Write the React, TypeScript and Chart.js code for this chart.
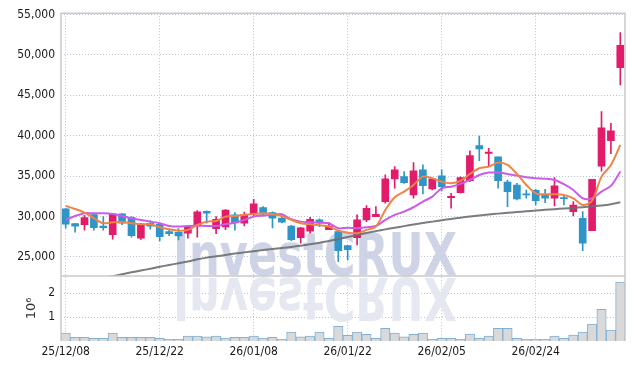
import React, { useEffect, useRef } from 'react';
import { Chart, registerables } from 'chart.js';

Chart.register(...registerables);

const DATES = [
  '25/12/08', '25/12/09', '25/12/10', '25/12/11', '25/12/12', '25/12/15', '25/12/16', '25/12/17', '25/12/18', '25/12/19',
  '25/12/22', '25/12/23', '25/12/24', '25/12/26', '25/12/29', '25/12/30', '26/01/02', '26/01/05', '26/01/06', '26/01/07',
  '26/01/08', '26/01/09', '26/01/12', '26/01/13', '26/01/14', '26/01/15', '26/01/16', '26/01/19', '26/01/20', '26/01/21',
  '26/01/22', '26/01/23', '26/01/26', '26/01/27', '26/01/28', '26/01/29', '26/01/30', '26/02/02', '26/02/03', '26/02/04',
  '26/02/05', '26/02/06', '26/02/09', '26/02/10', '26/02/11', '26/02/12', '26/02/13', '26/02/19', '26/02/20', '26/02/23',
  '26/02/24', '26/02/25', '26/02/26', '26/02/27', '26/03/03', '26/03/04', '26/03/05', '26/03/06', '26/03/09', '26/03/10',
];

const OPEN = [
  30930, 29110, 28980, 30220, 28820, 27750, 30310, 29900, 27300, 29160,
  29030, 28120, 28040, 27920, 28820, 30640, 28490, 28700, 30190, 29160,
  30310, 31090, 30470, 29810, 28820, 27370, 28170, 29570, 28370, 28120,
  26380, 27370, 29570, 29980, 31830, 34650, 34930, 32660, 35760, 33410,
  35020, 32330, 32950, 34440, 38770, 37800, 37370, 34270, 33900, 32800,
  33250, 32660, 32250, 32330, 30600, 29780, 28240, 36230, 39390, 48420,
];
const HIGH = [
  30980, 29150, 30150, 30250, 29980, 30350, 30350, 29980, 29150, 29480,
  29160, 28410, 28490, 28900, 30740, 30700, 29980, 30850, 30470, 30550,
  32130, 31210, 30560, 29900, 28900, 28660, 29900, 29690, 29230, 28200,
  26400, 30190, 31340, 31220, 35140, 36170, 35550, 36670, 36380, 34730,
  35760, 32870, 34900, 38120, 39970, 38450, 37370, 34520, 34110, 33280,
  33370, 33370, 34810, 32660, 31830, 30600, 34610, 42980, 41550, 52790,
];
const LOW = [
  28540, 28040, 28290, 28290, 28290, 27180, 28980, 27420, 27150, 28410,
  26960, 27620, 27090, 27300, 27420, 29160, 27870, 28360, 28290, 28820,
  30060, 30200, 28580, 29200, 27000, 26690, 27920, 28740, 28370, 24400,
  24600, 26470, 29360, 29980, 31640, 33490, 34100, 32250, 32790, 33280,
  33160, 31020, 32870, 34300, 36910, 36230, 33500, 31210, 32040, 32250,
  31420, 31710, 31300, 31420, 30060, 25760, 28240, 35600, 37780, 46300,
];
const CLOSE = [
  29030, 28790, 29850, 28610, 28610, 30310, 29160, 27620, 29070, 28790,
  27500, 27870, 27590, 28740, 30560, 30400, 29650, 30800, 29200, 30190,
  31550, 30270, 29780, 29280, 27130, 28580, 29650, 29200, 28820, 25760,
  25890, 29570, 31020, 30270, 34650, 35760, 34190, 35640, 33820, 34650,
  33690, 32480, 34810, 37530, 38360, 37960, 34440, 33070, 32170, 32660,
  31960, 32250, 33780, 32200, 31420, 26690, 34610, 40970, 40600, 51190,
];

const MA_SHORT = [
  31300, 30930, 30470, 29780, 29160, 29280, 29320, 29160, 29030, 29030,
  28660, 28410, 28240, 28330, 28950, 29360, 29440, 29980, 30060, 30190,
  30310, 30400, 30310, 30060, 29570, 29160, 29030, 28910, 28740, 28240,
  27990, 27920, 28330, 28740, 30800, 32380, 33070, 33900, 34930, 34730,
  34310, 34110, 34400, 35270, 35970, 36170, 36670, 36380, 35270, 33900,
  32870, 32750, 32750, 32660, 32250, 31420, 31960, 34930, 36380, 38860,
];
const MA_MID = [
  29570, 30060, 30400, 30400, 30400, 30310, 30060, 29780, 29570, 29360,
  29160, 28820, 28740, 28820, 28860, 28820, 28820, 29030, 29230, 29570,
  29980, 30100, 30190, 30270, 29650, 29360, 29280, 29230, 29160, 28540,
  28610, 28540, 28660, 28820, 29570, 30190, 30600, 31140, 31840, 32450,
  33490, 33690, 34030, 34520, 35140, 35430, 35430, 35270, 35060, 34860,
  34730, 34680, 34520, 33990, 33280, 32250, 32250, 33070, 33780, 35560,
];
const MA_LONG = [
  21500, 21750, 22000, 22200, 22430, 22600, 22850, 23080, 23300, 23530,
  23760, 23990, 24200, 24420, 24700, 24900, 25060, 25230, 25400, 25550,
  25700, 25830, 25960, 26090, 26220, 26380, 26550, 26750, 26950, 27200,
  27450, 27700, 27950, 28180, 28400, 28600, 28800, 29000, 29180, 29360,
  29530, 29690, 29850, 29990, 30120, 30240, 30350, 30450, 30550, 30640,
  30730, 30820, 30900, 30980, 31060, 31150, 31250, 31360, 31520, 31760,
];

// volume in millions of shares
const VOLUME = [
  0.33, 0.15, 0.15, 0.11, 0.11, 0.33, 0.15, 0.15, 0.15, 0.15,
  0.11, 0.07, 0.07, 0.21, 0.21, 0.17, 0.21, 0.12, 0.15, 0.15,
  0.21, 0.12, 0.15, 0.07, 0.375, 0.17, 0.21, 0.375, 0.11, 0.61,
  0.24, 0.375, 0.28, 0.11, 0.53, 0.33, 0.17, 0.28, 0.33, 0.07,
  0.11, 0.11, 0.07, 0.29, 0.11, 0.21, 0.53, 0.53, 0.11, 0.07,
  0.07, 0.07, 0.21, 0.11, 0.25, 0.375, 0.71, 1.32, 0.46, 2.45,
];

const PRICE_TICKS = [25000, 30000, 35000, 40000, 45000, 50000, 55000];
const VOLUME_TICKS = [1, 2];
const DATE_TICKS = [0, 10, 20, 30, 40, 50];

const UP = '#e31b6b';
const DOWN = '#2f95c8';
const GRID = 'rgba(176,182,208,0.85)';
const TICK_FONT = { family: '"DejaVu Sans Condensed", "DejaVu Sans", sans-serif', size: 12 };

const watermark = {
  id: 'watermark',
  beforeDatasetsDraw(chart: any) {
    const { ctx } = chart;
    const py = chart.scales.y;
    const base = py.bottom;
    const text = 'InvestCRUX';
    ctx.save();
    ctx.font = 'bold 58px "DejaVu Sans", sans-serif';
    const w = ctx.measureText(text).width;
    const sx = 284 / w;
    ctx.translate(173, base);
    ctx.scale(sx, 1);
    ctx.textBaseline = 'alphabetic';
    ctx.fillStyle = 'rgba(203,210,229,0.95)';
    ctx.fillText(text, 0, -1);
    ctx.scale(1, -1);
    ctx.fillStyle = 'rgba(226,229,239,0.9)';
    ctx.fillText(text, 0, -2);
    ctx.restore();
  },
};

const frame = {
  id: 'frame',
  afterDraw(chart: any) {
    const { ctx, chartArea } = chart;
    const py = chart.scales.y;
    ctx.save();
    ctx.strokeStyle = '#c9c9c9';
    ctx.lineWidth = 1.5;
    ctx.beginPath();
    ctx.moveTo(chartArea.left, chartArea.bottom);
    ctx.lineTo(chartArea.left, chartArea.top);
    ctx.lineTo(chartArea.right, chartArea.top);
    ctx.lineTo(chartArea.right, chartArea.bottom);
    ctx.moveTo(chartArea.left, py.bottom);
    ctx.lineTo(chartArea.right, py.bottom);
    ctx.stroke();
    ctx.restore();
  },
};

export default function App() {
  const ref = useRef<HTMLCanvasElement | null>(null);

  useEffect(() => {
    if (!ref.current) return;
    const idx = DATES.map((_, i) => i);
    const candleColors = idx.map((i) => (CLOSE[i] >= OPEN[i] ? UP : DOWN));

    const chart = new Chart(ref.current, {
      type: 'bar',
      data: {
        datasets: [
          {
            type: 'line',
            label: 'MA short',
            data: idx.map((i) => ({ x: i, y: MA_SHORT[i] })),
            borderColor: '#ef8447',
            borderWidth: 2,
            pointRadius: 0,
            tension: 0.3,
            yAxisID: 'y',
            order: 0,
          },
          {
            type: 'line',
            label: 'MA mid',
            data: idx.map((i) => ({ x: i, y: MA_MID[i] })),
            borderColor: '#cb5ce9',
            borderWidth: 2,
            pointRadius: 0,
            tension: 0.3,
            yAxisID: 'y',
            order: 0,
          },
          {
            type: 'line',
            label: 'MA long',
            data: idx.map((i) => ({ x: i, y: MA_LONG[i] })),
            borderColor: 'rgba(110,110,110,0.9)',
            borderWidth: 2,
            pointRadius: 0,
            tension: 0.2,
            yAxisID: 'y',
            order: 0,
          },
          {
            type: 'bar',
            label: 'body',
            data: idx.map((i) => ({ x: i, y: [OPEN[i], CLOSE[i]] })),
            backgroundColor: candleColors,
            borderWidth: 0,
            barThickness: 7,
            grouped: false,
            yAxisID: 'y',
            order: 1,
          },
          {
            type: 'bar',
            label: 'wick',
            data: idx.map((i) => ({ x: i, y: [LOW[i], HIGH[i]] })),
            backgroundColor: candleColors,
            borderWidth: 0,
            barThickness: 1,
            grouped: false,
            yAxisID: 'y',
            order: 2,
          },
          {
            type: 'bar',
            label: 'volume',
            data: idx.map((i) => ({ x: i, y: VOLUME[i] })),
            backgroundColor: '#d9d9d9',
            borderColor: '#82b1d4',
            borderWidth: 1,
            barPercentage: 1,
            categoryPercentage: 1,
            grouped: false,
            yAxisID: 'yv',
            order: 3,
          },
        ] as any,
      },
      options: {
        animation: false,
        responsive: false,
        maintainAspectRatio: false,
        layout: { padding: { top: 13, right: 9, left: 0, bottom: 0 } },
        plugins: { legend: { display: false }, tooltip: { enabled: false } },
        scales: {
          x: {
            type: 'linear',
            offset: false,
            min: -0.5,
            max: 59.5,
            afterBuildTicks: (s: any) => {
              s.ticks = DATE_TICKS.map((v) => ({ value: v }));
            },
            afterFit: (s: any) => {
              s.height = 29;
            },
            ticks: {
              callback: (v: any) => DATES[v] ?? '',
              font: { ...TICK_FONT },
              color: '#1a1a1a',
              padding: 4,
              maxRotation: 0,
              autoSkip: false,
            },
            grid: { color: GRID, lineWidth: 1, drawTicks: false, offset: false },
            border: { display: false, dash: [1, 2] },
          },
          yv: {
            type: 'linear',
            position: 'left',
            stack: 'main',
            stackWeight: 1,
            min: 0,
            max: 2.71,
            afterBuildTicks: (s: any) => {
              s.ticks = VOLUME_TICKS.map((v) => ({ value: v }));
            },
            afterFit: (s: any) => {
              s.width = 61;
            },
            ticks: { font: { ...TICK_FONT }, color: '#1a1a1a', padding: 6 },
            title: {
              display: true,
              text: '10⁶',
              color: '#333',
              font: { family: '"DejaVu Sans", sans-serif', size: 13 },
              padding: { top: 24, bottom: 0 },
            },
            grid: { color: GRID, lineWidth: 1, drawTicks: false },
            border: { display: false, dash: [1, 2] },
          },
          y: {
            type: 'linear',
            position: 'left',
            stack: 'main',
            stackWeight: 4.04,
            min: 22628,
            max: 55177,
            afterBuildTicks: (s: any) => {
              s.ticks = PRICE_TICKS.map((v) => ({ value: v }));
            },
            afterFit: (s: any) => {
              s.width = 61;
            },
            ticks: {
              font: { ...TICK_FONT },
              color: '#1a1a1a',
              padding: 6,
              callback: (v: any) => Number(v).toLocaleString('en-US'),
            },
            grid: { color: GRID, lineWidth: 1, drawTicks: false },
            border: { display: false, dash: [1, 2] },
          },
        },
      } as any,
      plugins: [watermark, frame],
    });

    return () => chart.destroy();
  }, []);

  return (
    <div style={{ position: 'fixed', left: 0, top: 0, width: 634, height: 370, background: '#fff' }}>
      <canvas ref={ref} width={634} height={370} style={{ width: 634, height: 370, display: 'block' }} />
    </div>
  );
}
